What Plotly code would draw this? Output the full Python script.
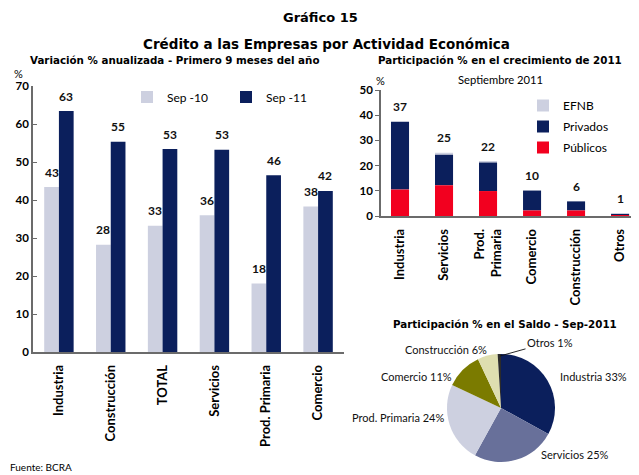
import plotly.graph_objects as go

W, H = 639, 475
OFF = 8  # browser body margin
FW, FH = W - OFF, H - OFF

# ---------------- data ----------------
cat_left = ["Industria", "Construcción", "TOTAL", "Servicios", "Prod. Primaria", "Comercio"]
sep10 = [43.4, 28.2, 33.2, 36.0, 18.0, 38.3]
sep11 = [63.4, 55.3, 53.4, 53.2, 46.5, 42.4]

cat_right = ["Industria", "Servicios", "Prod.<br>Primaria", "Comercio", "Construcción", "Otros"]
publicos = [10.5, 12.2, 9.9, 2.2, 2.2, 0.2]
privados = [26.9, 12.1, 11.3, 7.9, 3.6, 0.5]
efnb = [0.0, 0.8, 0.6, 0.0, 0.0, 0.1]

pie_labels = ["Industria", "Servicios", "Prod. Primaria", "Comercio", "Construcción", "Otros"]
pie_values = [33, 25, 24, 11, 6, 1]

# ---------------- styles ----------------
NAVY = "#0b1f5c"
LAV = "#cdd0e0"
RED = "#f2001f"
PIE_COLORS = ["#0b1f5c", "#68709a", "#cdd0e0", "#7b7b00", "#dedeb0", "#2b2b2b"]
GILL = "Lato, 'Open Sans', sans-serif"
TAH = "'DejaVu Sans', Verdana, sans-serif"
AXC = "#6b6b6b"


def px(x):
    return (x - OFF) / FW


def py(y):
    return 1 - (y - OFF) / FH


fig = go.Figure()

# left grouped bars
BW = 0.284
fig.add_trace(go.Bar(x=cat_left, y=sep10, name="Sep -10", marker=dict(color=LAV, line=dict(width=0)),
                     width=BW, offset=-BW, xaxis="x", yaxis="y", legend="legend"))
fig.add_trace(go.Bar(x=cat_left, y=sep11, name="Sep -11", marker=dict(color=NAVY, line=dict(width=0)),
                     width=BW, offset=0, xaxis="x", yaxis="y", legend="legend"))

# right stacked bars (explicit bases)
base_priv = [a for a in publicos]
base_efnb = [a + b for a, b in zip(publicos, privados)]
RBW = 0.41
fig.add_trace(go.Bar(x=cat_right, y=efnb, base=base_efnb, name="EFNB", marker=dict(color=LAV, line=dict(width=0)),
                     width=RBW, offset=-RBW / 2, xaxis="x2", yaxis="y2", legend="legend2",
                     legendgroup="efnb"))
fig.add_trace(go.Bar(x=cat_right, y=privados, base=base_priv, name="Privados",
                     marker=dict(color=NAVY, line=dict(width=0)),
                     width=RBW, offset=-RBW / 2, xaxis="x2", yaxis="y2", legend="legend2",
                     legendgroup="priv"))
fig.add_trace(go.Bar(x=cat_right, y=publicos, name="Públicos", marker=dict(color=RED, line=dict(width=0)),
                     width=RBW, offset=-RBW / 2, xaxis="x2", yaxis="y2", legend="legend2",
                     legendgroup="pub"))

# pie
fig.add_trace(go.Pie(labels=pie_labels, values=pie_values, sort=False, direction="clockwise", rotation=0,
                     textinfo="none", hoverinfo="label+percent",
                     marker=dict(colors=PIE_COLORS, line=dict(width=0)),
                     domain=dict(x=[px(447), px(555)], y=[py(462), py(354)]), showlegend=False))

ann = []
# value labels left
for c, a, b in zip(cat_left, sep10, sep11):
    ann.append(dict(x=c, y=a, xref="x", yref="y", text=f"<b>{round(a)}</b>", showarrow=False,
                    xshift=-BW * 51.8 / 2, yshift=15, font=dict(family=GILL, size=12, color="#111")))
    ann.append(dict(x=c, y=b, xref="x", yref="y", text=f"<b>{round(b)}</b>", showarrow=False,
                    xshift=BW * 51.8 / 2, yshift=15, font=dict(family=GILL, size=12, color="#111")))
# value labels right
for i, c in enumerate(cat_right):
    tot = base_efnb[i] + efnb[i]
    ann.append(dict(x=c, y=tot, xref="x2", yref="y2", text=f"<b>{round(tot)}</b>", showarrow=False,
                    yshift=15, font=dict(family=GILL, size=12, color="#111")))

# pie labels
pie_pos = {
    "Industria": (558, 376, "left"),
    "Servicios": (539, 454, "left"),
    "Prod. Primaria": (446, 417, "right"),
    "Comercio": (454, 376, "right"),
    "Construcción": (489, 349, "right"),
}
for lab, val in zip(pie_labels, pie_values):
    txt = f"{lab} {val}%"
    if lab in pie_pos:
        x, y, anc = pie_pos[lab]
        ann.append(dict(x=px(x), y=py(y), xref="paper", yref="paper", text=txt, showarrow=False,
                        xanchor=anc, yanchor="middle", font=dict(family=GILL, size=11, color="#111")))
    else:
        ann.append(dict(x=px(500), y=py(356), xref="paper", yref="paper", text=txt, showarrow=True,
                        arrowhead=0, arrowwidth=0.9, arrowcolor="#111", ax=50, ay=-14,
                        font=dict(family=GILL, size=11, color="#111")))


# titles and notes
def t(x, y, text, size, fam=TAH, anchor="center"):
    ann.append(dict(x=px(x), y=py(y), xref="paper", yref="paper", text=text, showarrow=False,
                    xanchor=anchor, yanchor="middle", font=dict(family=fam, size=size, color="#000")))


t(320, 17, "<b>Gráfico 15</b>", 13)
t(327, 44, "<b>Crédito a las Empresas por Actividad Económica</b>", 13.5)
t(174, 60, "<b>Variación % anualizada - Primero 9 meses del año</b>", 10.3)
t(500, 60, "<b>Participación % en el crecimiento de 2011</b>", 10.3)
t(500, 79, "Septiembre 2011", 11.2, GILL)
t(505, 324, "<b>Participación % en el Saldo - Sep-2011</b>", 10.3)
t(18, 74, "%", 11, GILL)
t(380, 81, "%", 11, GILL)
t(8, 467, "Fuente: BCRA", 10, GILL, "left")

fig.update_layout(
    width=FW, height=FH,
    margin=dict(l=0, r=0, t=0, b=0, pad=0, autoexpand=False),
    paper_bgcolor="white", plot_bgcolor="white",
    barmode="overlay",
    font=dict(family=GILL, color="#000"),
    xaxis=dict(domain=[px(33), px(344)], range=[-0.5, 5.5], type="category", automargin=False,
               showline=True, linecolor=AXC, linewidth=1.5, ticks="", showgrid=False, zeroline=False,
               tickangle=-90, ticklabelstandoff=6,
               tickfont=dict(family=GILL, size=13, color="#000", weight="bold")),
    yaxis=dict(domain=[py(352), py(86)], range=[0, 70], dtick=10, showline=True, linecolor=AXC,
               linewidth=1.5, ticks="inside", ticklen=4, tickcolor=AXC, showgrid=False, zeroline=False,
               automargin=False, tickfont=dict(family=GILL, size=11.5, color="#000", weight="bold")),
    xaxis2=dict(domain=[px(381), 1.0], range=[-0.432, 5.43], type="category", automargin=False,
                showline=True, linecolor=AXC, linewidth=1.5, ticks="", showgrid=False, zeroline=False,
                tickangle=-90, ticklabelstandoff=6, anchor="y2",
                tickfont=dict(family=GILL, size=13, color="#000", weight="bold")),
    yaxis2=dict(domain=[py(216), py(90)], range=[0, 50], dtick=10, showline=True, linecolor=AXC,
                linewidth=1.5, ticks="outside", ticklen=4, tickcolor=AXC, showgrid=False, zeroline=False,
                anchor="x2", automargin=False,
                tickfont=dict(family=GILL, size=11.5, color="#000", weight="bold")),
    legend=dict(orientation="h", x=px(127), y=py(97), xanchor="left", yanchor="middle",
                bgcolor="rgba(0,0,0,0)", font=dict(family=GILL, size=12, color="#000"),
                entrywidth=54, entrywidthmode="pixels"),
    legend2=dict(orientation="v", x=px(523), y=py(91), xanchor="left", yanchor="top",
                 bgcolor="rgba(0,0,0,0)", font=dict(family=GILL, size=12, color="#000"),
                 traceorder="grouped", tracegroupgap=2),
    annotations=ann,
    showlegend=True,
)

fig.write_html("out.html")
